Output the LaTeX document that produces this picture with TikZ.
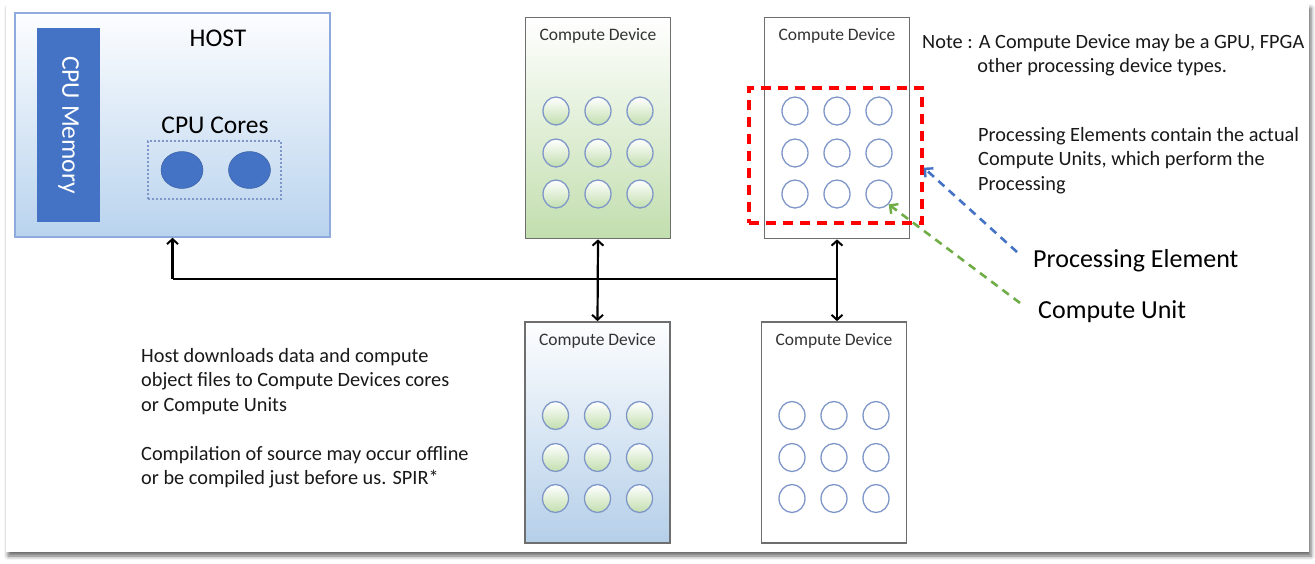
\documentclass[tikz,border=0pt]{standalone}
\usepackage{fontspec}
\setmainfont{Carlito}
\usepackage{tikz}
\usetikzlibrary{arrows.meta,shapes,positioning}
\usetikzlibrary{calc}
\usetikzlibrary{shadows.blur}

\definecolor{hostblue}{HTML}{B9D3EE}
\definecolor{hostedge}{HTML}{8FAADC}
\definecolor{memblue}{HTML}{4472C4}
\definecolor{cugreen}{HTML}{C2DEAE}
\definecolor{devblue}{HTML}{B5CFE9}
\definecolor{edgegrey}{HTML}{6E6E6E}
\definecolor{cuedge}{HTML}{7F97C8}
\definecolor{lblgrey}{HTML}{333333}
\definecolor{pearrow}{HTML}{4472C4}
\definecolor{cuarrow}{HTML}{70AD47}

\begin{document}
\begin{tikzpicture}[x=1pt,y=-1pt,
    device/.style={draw=edgegrey, line width=1.7pt, minimum width=145pt, minimum height=221pt, inner sep=0pt},
    cu/.style={ellipse, draw=cuedge, line width=1.3pt, minimum width=26pt, minimum height=28pt, inner sep=0pt},
    cugrad/.style={cu, top color=white, bottom color=cugreen},
    devlabel/.style={inner sep=0pt, text=lblgrey, font=\fontsize{17.5}{21}\selectfont},
    bodytext/.style={inner sep=0pt, align=left, text=black!90, font=\fontsize{20.3}{24.5}\selectfont},
    biglabel/.style={inner sep=0pt, font=\fontsize{25.5}{30}\selectfont},
    link/.style={line width=2.2pt, >={Straight Barb[length=5pt,width=11pt,line width=2pt]}},
    hint/.style={line width=2.6pt, dash pattern=on 8pt off 6pt, -{Straight Barb[length=6pt,width=12pt,line width=2.4pt]}}]
  \useasboundingbox (0,0) rectangle (1315,563);
  \fill[white, blur shadow={shadow xshift=2pt, shadow yshift=-4pt, shadow blur radius=4pt, shadow opacity=60}] (6,4) rectangle (1309,552);

  % host side
  \node[draw=hostedge, line width=1.5pt, top color=white!96!hostblue, bottom color=hostblue,
        minimum width=315pt, minimum height=224pt, inner sep=0pt] (host) at (172.5,125) {};
  \node[fill=memblue, minimum width=63pt, minimum height=194pt, inner sep=0pt] (mem) at (68.5,125) {};
  \node[biglabel, text=white, rotate=-90] (memlbl) at (mem.center) {CPU Memory};
  \node[biglabel] (hostlbl) at (218,38) {HOST};
  \node[biglabel] (coreslbl) at (215,125) {CPU Cores};
  \node[draw=cuedge, line width=1.4pt, dash pattern=on 2pt off 2pt, minimum width=133pt, minimum height=58pt, inner sep=0pt] (cores) at (214.5,170) {};
  \node[ellipse, fill=memblue, draw=memblue!80!black, minimum width=42pt, minimum height=37pt, inner sep=0pt] (core1) at (182,170) {};
  \node[ellipse, fill=memblue, draw=memblue!80!black, minimum width=42pt, minimum height=37pt, inner sep=0pt] (core2) at (249.5,170) {};

  % compute devices
  \node[device, top color=white, bottom color=cugreen] (cdA) at (598,128) {};
  \node[device] (cdB) at (837,128) {};
  \node[device, top color=white!97!devblue, bottom color=devblue] (cdC) at (597.5,432.5) {};
  \node[device] (cdD) at (834,432.5) {};
  \foreach \dev in {cdA,cdB,cdC,cdD}
    \node[devlabel, below=12pt of \dev.north] (\dev-lbl) {Compute Device};
  \foreach \dev/\sty in {cdA/cugrad,cdB/cu,cdC/cugrad,cdD/cu}
    \foreach \dx [count=\col] in {-42,0,42}
      \foreach \dy [count=\row] in {-17,25,66}
        \node[\sty] (\dev-\row\col) at ([shift={(\dx,\dy)}]\dev.center) {};

  \node[draw=red, line width=3.4pt, dash pattern=on 10pt off 7pt, minimum width=173pt, minimum height=135pt, inner sep=0pt] (pebox) at (835.5,155.5) {};

  % bus
  \coordinate (busL) at (host.south |- 0,279);
  \coordinate (busR) at (cdB.south |- busL);
  \draw[link] (busL) -- (busR);
  \draw[link,->] (busL) -- (host.south);
  \draw[link,<->] (cdA.south) -- (cdC.north);
  \draw[link,<->] (cdB.south) -- (cdB.south |- cdD.north);

  % notes
  \node[bodytext, anchor=north west] (note) at (922,34)
    {Note : A Compute Device may be a GPU, FPGA\\\hphantom{Note :\ }other processing device types.};
  \node[bodytext, anchor=north west] (penote) at (978,127)
    {Processing Elements contain the actual\\Compute Units, which perform the\\Processing};
  \node[bodytext, anchor=north west] (hostnote) at (141,348)
    {Host downloads data and compute\\object files to Compute Devices cores\\or Compute Units\\[24.5pt]Compilation of source may occur offline\\or be compiled just before us. SPIR*};
  \node[biglabel, font=\fontsize{26}{30}\selectfont, anchor=base west] (pelbl) at (1033,267) {Processing Element};
  \node[biglabel, font=\fontsize{26}{30}\selectfont, anchor=base west] (culbl) at (1038,318) {Compute Unit};

  \coordinate (peTail) at (1017,252);
  \coordinate (cuTail) at (1020,303);
  \draw[hint, pearrow] (peTail) -- (pebox.east |- cdB-23.south);
  \draw[hint, cuarrow] (cuTail) -- (cdB-33.south east);
\end{tikzpicture}
\end{document}
